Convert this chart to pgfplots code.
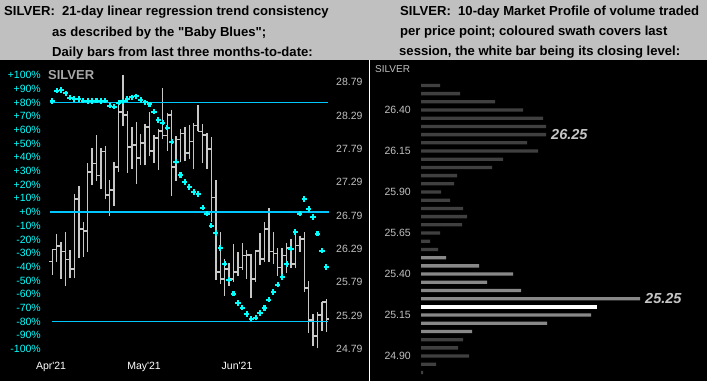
\documentclass[border=0pt]{standalone}
\usepackage{fontspec}
\setmainfont{Liberation Sans}
\usepackage{pgfplots}
\pgfplotsset{compat=1.18}
\usepackage{pgfplotstable}

\definecolor{band}{RGB}{192,192,192}
\definecolor{barcol}{RGB}{200,200,200}
\definecolor{lncol}{RGB}{0,200,255}
\definecolor{dotcol}{RGB}{0,255,255}
\definecolor{pctcol}{RGB}{0,255,255}
\definecolor{pricecol}{RGB}{192,192,192}
\definecolor{mpdark}{RGB}{64,64,64}
\definecolor{mpswath}{RGB}{136,136,136}
\definecolor{silvlab}{RGB}{168,168,168}

\pgfplotstableread{
X O H L C
1 26.10 26.28 25.90 26.28
2 26.28 26.51 26.10 26.33
3 26.33 26.40 25.84 26.25
4 26.25 26.54 25.74 26.13
5 26.13 26.27 25.85 25.99
6 25.99 27.11 25.85 27.04
7 27.04 27.23 26.15 26.59
8 26.59 26.70 26.17 26.56
9 26.56 27.58 26.25 27.44
10 27.44 27.80 27.24 27.57
11 27.57 27.99 27.30 27.39
12 27.39 27.80 27.18 27.75
13 27.75 27.83 27.03 27.10
14 27.10 27.32 26.79 27.17
15 27.17 27.59 26.93 27.52
16 27.52 28.44 27.44 28.34
17 28.34 28.90 28.13 28.29
18 28.29 28.36 27.43 27.82
19 27.82 28.12 27.49 27.85
20 27.85 28.19 27.26 27.65
21 27.65 28.01 27.55 27.88
22 27.88 28.16 27.54 28.12
23 28.12 28.34 27.68 27.76
24 27.76 28.00 27.58 27.95
25 27.95 28.09 27.47 28.06
26 28.06 28.70 27.93 27.99
27 27.99 28.32 27.76 28.30
28 28.30 28.37 27.08 27.52
29 27.52 27.98 27.31 27.93
30 27.93 28.09 27.59 28.02
31 28.02 28.11 27.60 27.73
32 27.73 28.15 27.63 27.90
33 27.90 28.18 27.48 28.14
34 28.14 28.45 28.05 28.05
35 28.05 28.16 27.57 28.00
36 28.00 28.03 27.49 27.79
37 27.79 27.97 26.70 27.06
38 27.06 27.32 25.83 25.94
39 25.94 26.55 25.77 25.84
40 25.84 26.14 25.59 25.99
41 25.99 26.08 25.74 25.84
42 25.84 26.36 25.80 25.94
43 25.94 26.24 25.88 26.01
44 26.01 26.38 25.98 26.19
45 26.19 26.28 25.84 26.20
46 26.20 26.21 25.56 25.84
47 25.84 26.28 25.80 26.26
48 26.26 26.53 26.05 26.14
49 26.14 26.69 26.10 26.59
50 26.59 26.90 26.10 26.25
51 26.25 26.54 26.06 26.22
52 26.22 26.30 25.88 26.01
53 26.01 26.30 25.83 26.19
54 26.19 26.38 25.93 26.30
55 26.30 26.44 26.01 26.06
56 26.06 26.55 26.00 26.34
57 26.34 26.49 26.25 26.44
58 26.44 26.54 25.65 25.70
59 25.70 25.81 25.03 25.23
60 25.23 25.31 24.84 24.98
61 24.98 25.35 24.80 25.30
62 25.30 25.50 25.06 25.49
63 25.49 25.54 25.05 25.24
}\bars

\pgfplotstableread{
X P
1 81.0
2 88.5
3 89.0
4 86.6
5 83.5
6 82.5
7 82.5
8 81.3
9 81.0
10 81.0
11 81.3
12 81.0
13 81.3
14 77.6
15 76.9
16 79.8
17 80.8
18 82.5
19 83.7
20 84.4
21 81.8
22 80.0
23 78.6
24 73.2
25 67.2
26 65.2
27 61.6
28 51.3
29 36.7
30 27.0
31 21.9
32 18.3
33 14.6
34 13.1
35 3.2
36 -1.2
37 -9.9
38 -15.3
39 -26.3
40 -37.7
41 -49.4
42 -59.6
43 -66.4
44 -69.8
45 -74.5
46 -77.9
47 -77.1
48 -73.7
49 -70.1
50 -64.0
51 -58.4
52 -53.0
53 -47.4
54 -37.9
55 -26.8
56 -14.6
57 -1.2
58 9.5
59 2.2
60 -3.6
61 -15.8
62 -28.2
63 -40.1
}\blues

\pgfplotstableread{
P V
26.55 19
26.50 39
26.45 74
26.40 102
26.35 122
26.30 125
26.25 125
26.20 106
26.15 117
26.10 82
26.05 71
26.00 36
25.95 33
25.90 20
25.85 29
25.80 42
25.75 46
25.70 41
25.65 19
25.60 9
25.55 17
25.00 42
24.95 37
24.90 48
24.85 15
24.80 2
}\mpdarktab

\pgfplotstableread{
P V
25.50 25
25.45 58
25.40 92
25.35 66
25.30 100
25.25 219
25.15 170
25.10 126
25.05 51
}\mpswathtab

\pgfplotstableread{
P V
25.20 176
}\mpwhitetab

\begin{document}
\begin{tikzpicture}
\useasboundingbox (0pt,0pt) rectangle (707pt,381pt);
\fill[black] (0pt,0pt) rectangle (707pt,381pt);
\fill[band] (0pt,321pt) rectangle (707pt,381pt);
\draw[white, line width=1.4pt] (369.5pt,0pt) -- (369.5pt,321pt);

\begin{scope}[every node/.style={anchor=base west, inner sep=0pt, font=\fontsize{13.1}{15}\selectfont\bfseries, text=black}]
\node at (4pt,365pt) {SILVER:\ \ 21-day linear regression trend consistency};
\node at (52pt,344pt) {as described by the \textquotedbl Baby Blues\textquotedbl;};
\node at (52pt,324.5pt) {Daily bars from last three months-to-date:};
\node at (400pt,365pt) {SILVER:\ \ 10-day Market Profile of volume traded};
\node at (400pt,345pt) {per price point; coloured swath covers last};
\node at (399pt,325pt) {session, the white bar being its closing level:};
\end{scope}

\node[anchor=west, inner sep=0pt, font=\fontsize{13}{15}\selectfont\bfseries, text=silvlab] at (48pt,306pt) {SILVER};
\node[anchor=west, inner sep=0pt, font=\fontsize{10}{12}\selectfont, text=pricecol] at (375pt,312pt) {SILVER};

\begin{axis}[at={(48pt,23pt)}, anchor=south west, scale only axis,
  width=282pt, height=298pt,
  xmin=0.027, xmax=63.83, ymin=24.655, ymax=29.12,
  axis line style={draw=none}, major tick length=0pt,
  xtick={0.71,21.75,42.8},
  xticklabels={Apr\textquotesingle 21,May\textquotesingle 21,Jun\textquotesingle 21},
  xticklabel style={font=\fontsize{10.5}{12}\selectfont, text=white, anchor=north, inner sep=0pt, yshift=-3.5pt},
  ytick={24.79,25.29,25.79,26.29,26.79,27.29,27.79,28.29,28.79},
  yticklabels={24.79,25.29,25.79,26.29,26.79,27.29,27.79,28.29,28.79},
  yticklabel pos=right,
  yticklabel style={font=\fontsize{10.5}{12}\selectfont, text=pricecol, anchor=west, inner sep=0pt, xshift=6pt},
]
\addplot[draw=none, error bars/.cd, y dir=plus, y explicit, error mark=none,
  error bar style={draw=barcol, line width=1.4pt}]
  table[x=X, y=L, y error plus expr={\thisrow{H}-\thisrow{L}}] {\bars};
\addplot[draw=none, error bars/.cd, x dir=minus, x fixed=0.7, error mark=none,
  error bar style={draw=barcol, line width=1.8pt}]
  table[x=X, y=O] {\bars};
\addplot[draw=none, error bars/.cd, x dir=plus, x fixed=0.7, error mark=none,
  error bar style={draw=barcol, line width=1.8pt}]
  table[x=X, y=C] {\bars};
\end{axis}

\begin{axis}[at={(48pt,23pt)}, anchor=south west, scale only axis,
  width=282pt, height=298pt,
  xmin=0.027, xmax=63.83, ymin=-106.57, ymax=110.95,
  axis line style={draw=none}, major tick length=0pt,
  xtick=\empty,
  ytick={-100,-90,-80,-70,-60,-50,-40,-30,-20,-10,0,10,20,30,40,50,60,70,80,90,100},
  yticklabels={-100\%,-90\%,-80\%,-70\%,-60\%,-50\%,-40\%,-30\%,-20\%,-10\%,+0\%,+10\%,+20\%,+30\%,+40\%,+50\%,+60\%,+70\%,+80\%,+90\%,+100\%},
  yticklabel style={font=\fontsize{10.5}{12}\selectfont, text=pctcol, anchor=east, inner sep=0pt, xshift=-7pt},
]
\addplot[lncol, line width=1.6pt] coordinates {(0.45,80) (63.3,80)};
\addplot[lncol, line width=1.6pt] coordinates {(0.45,0) (63.5,0)};
\addplot[lncol, line width=1.6pt] coordinates {(0.95,-80) (63.3,-80)};
\addplot[only marks, mark=+, mark size=2.6pt, color=dotcol, mark options={line width=2.1pt}]
  table[x=X, y=P] {\blues};
\end{axis}

\begin{axis}[at={(369pt,0pt)}, anchor=south west, scale only axis,
  width=338pt, height=321pt,
  xmin=-52, xmax=286, ymin=24.748, ymax=26.705,
  axis line style={draw=none}, major tick length=0pt,
  xtick=\empty,
  ytick={24.90,25.15,25.40,25.65,25.90,26.15,26.40},
  yticklabels={24.90,25.15,25.40,25.65,25.90,26.15,26.40},
  yticklabel style={font=\fontsize{10.5}{12}\selectfont, text=pricecol, anchor=east, inner sep=0pt, xshift=42pt},
  xbar, bar width=3.3pt,
]
\addplot[xbar, bar shift=0pt, fill=mpdark, draw=none] table[x=V, y=P] {\mpdarktab};
\addplot[xbar, bar shift=0pt, fill=mpswath, draw=none] table[x=V, y=P] {\mpswathtab};
\addplot[xbar, bar shift=0pt, bar width=4pt, fill=white, draw=none] table[x=V, y=P] {\mpwhitetab};
\node[anchor=west, inner sep=0pt, font=\fontsize{14.5}{16}\selectfont\bfseries\itshape, text=pricecol!90!white] at (axis cs:130,26.25) {26.25};
\node[anchor=west, inner sep=0pt, font=\fontsize{14.5}{16}\selectfont\bfseries\itshape, text=pricecol!90!white] at (axis cs:224,25.25) {25.25};
\end{axis}
\end{tikzpicture}
\end{document}
